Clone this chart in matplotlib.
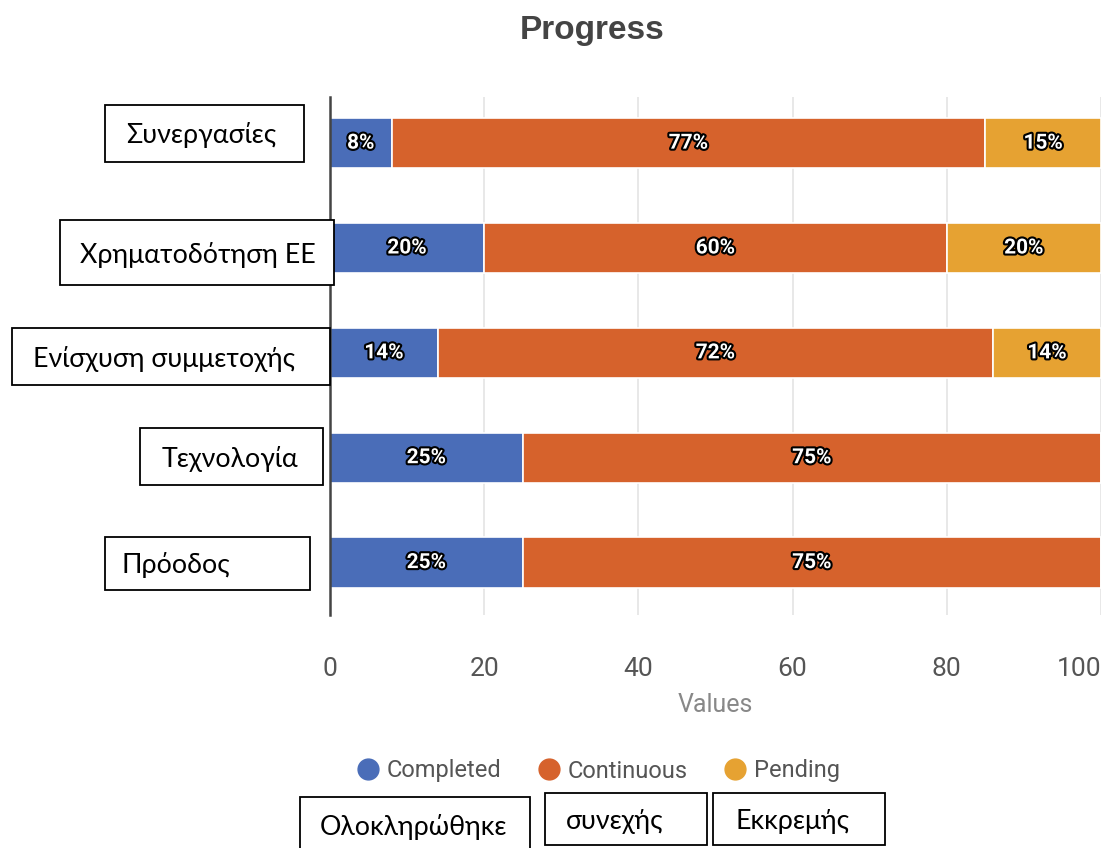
import matplotlib.pyplot as plt
import matplotlib.patheffects as pe
from matplotlib.patches import Rectangle
from matplotlib.lines import Line2D

categories = ['Συνεργασίες', 'Χρηματοδότηση ΕΕ', 'Ενίσχυση συμμετοχής', 'Τεχνολογία', 'Πρόοδος']
completed = [8, 20, 14, 25, 25]
continuous = [77, 60, 72, 75, 75]
pending = [15, 20, 14, 0, 0]

series_names = ['Completed', 'Continuous', 'Pending']
series_greek = ['Ολοκληρώθηκε', 'συνεχής', 'Εκκρεμής']
colors = ['#4A6DB8', '#D6622C', '#E6A232']
xticks = [0, 20, 40, 60, 80, 100]

W, H = 1104, 848
NARROW = ['Roboto', 'DejaVu Sans']
BOXFONT = ['Lato', 'DejaVu Sans']

# boxes drawn over the chart in pixel space: (left, top, right, bottom, text_x)
cat_boxes = [(105, 105, 304, 162, 126),
             (60, 220, 334, 285, 80),
             (12, 328, 330, 385, 33),
             (140, 428, 323, 485, 162),
             (105, 537, 310, 590, 122)]
legend_boxes = [(300, 797, 530, 852, 320),
                (545, 793, 707, 845, 566),
                (713, 793, 885, 845, 735)]


def px_box(fig, box, text):
    l, t, r, b, tx = box
    fig.add_artist(Rectangle((l / W, 1 - b / H), (r - l) / W, (b - t) / H,
                             transform=fig.transFigure, fill=True,
                             facecolor='white', edgecolor='black', lw=1.3))
    fig.text(tx / W, 1 - ((t + b) / 2 + 2) / H, text, fontsize=19.3, family=BOXFONT,
             color='black', ha='left', va='center')


fig = plt.figure(figsize=(W / 100, H / 100), dpi=100)
ax = fig.add_axes([330 / W, 1 - 615 / H, 771 / W, 518 / H])

y = list(range(len(categories)))
left = [0] * len(categories)
for vals, name, col in zip([completed, continuous, pending], series_names, colors):
    bars = ax.barh(y, vals, left=left, height=0.48, color=col,
                   edgecolor='white', linewidth=1.2, label=name, zorder=3)
    for b, v in zip(bars, vals):
        if v <= 0:
            continue
        t = ax.text(b.get_x() + b.get_width() / 2, b.get_y() + b.get_height() / 2,
                    f'{v}%', ha='center', va='center', color='white',
                    fontsize=15, fontweight='bold', family=NARROW, zorder=4)
        t.set_path_effects([pe.Stroke(linewidth=3, foreground='black'), pe.Normal()])
    left = [a + v for a, v in zip(left, vals)]

ax.set_xlim(0, 100)
ax.set_ylim(4.5, -0.44)
ax.set_xticks(xticks)
ax.set_yticks(y)
ax.set_yticklabels([])
ax.tick_params(length=0)
ax.tick_params(axis='x', pad=30, labelsize=19, labelcolor='#555555')
for lbl in ax.get_xticklabels():
    lbl.set_family(NARROW)
ax.get_xticklabels()[-1].set_horizontalalignment('right')
ax.grid(axis='x', color='#e4e4e4', lw=1.2, zorder=0)
for s in ['top', 'right', 'bottom']:
    ax.spines[s].set_visible(False)
ax.spines['left'].set_color('#444444')
ax.spines['left'].set_linewidth(1.8)
ax.spines['left'].set_zorder(5)

ax.set_xlabel('Values', fontsize=18, color='#888888', family=NARROW, labelpad=9)

fig.text(592 / W, 1 - 30 / H, 'Progress', fontsize=24, fontweight='bold',
         color='#444444', family=['Liberation Sans', 'DejaVu Sans'],
         ha='center', va='center')

handles = [Line2D([], [], marker='o', linestyle='', markersize=15,
                  markerfacecolor=c, markeredgecolor=c) for c in colors]
fig.legend(handles, series_names, loc='center', ncol=3,
           bbox_to_anchor=(598 / W, 1 - 771 / H), frameon=False,
           prop={'family': NARROW, 'size': 17}, labelcolor='#555555',
           handletextpad=0.3, columnspacing=1.5, handlelength=1.0)

for box, name in zip(cat_boxes, categories):
    px_box(fig, box, name)
for box, name in zip(legend_boxes, series_greek):
    px_box(fig, box, name)

fig.savefig('out.png', dpi=100, facecolor='white')
